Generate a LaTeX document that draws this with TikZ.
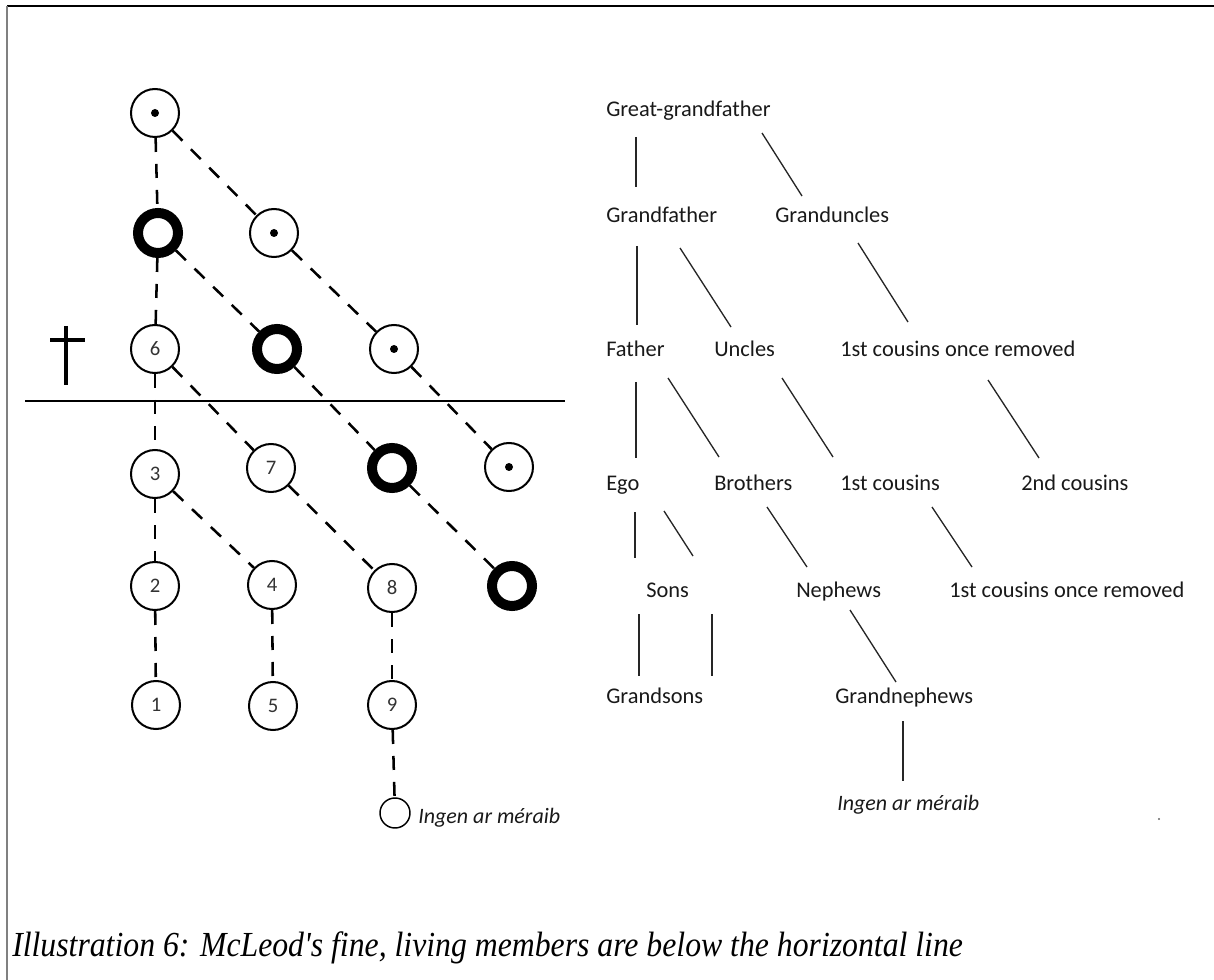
\documentclass[tikz,border=0pt]{standalone}
\usepackage{fontspec}
\setmainfont{Carlito}
\newfontfamily\capfont{Liberation Serif}[Ligatures=TeXOff]
\usepackage{graphicx}
\begin{document}
\begin{tikzpicture}[x=0.75pt,y=-0.75pt,
  thinc/.style={circle,draw,line width=1.5pt,minimum size=36pt,inner sep=0pt,
    font=\fontsize{15.5}{18}\selectfont,text=black!80},
  thickc/.style={circle,draw,line width=7.5pt,minimum size=30pt,inner sep=0pt},
  smallc/.style={circle,draw,line width=1.1pt,minimum size=22.5pt,inner sep=0pt},
  dotc/.style={path picture={\fill (path picture bounding box.center) circle (3pt);}},
  link/.style={line width=1.9pt,dash pattern=on 10.5pt off 9pt},
  lbl/.style={anchor=base west,inner sep=0pt,font=\fontsize{16.8}{20}\selectfont,text=black!90},
  tie/.style={line width=1pt,black!85}
]
\useasboundingbox (0,0) rectangle (1214,980);
% frame
\draw[line width=1.5pt] (7,6) -- (1214,6);
\draw[line width=1.5pt,black!50] (7,6) -- (7,980);

% left diagram nodes
\node[thinc,dotc] (n1) at (155,113) {};
\node[thickc] (t2) at (158,233) {};
\node[thinc,dotc] (d2) at (274,233) {};
\node[thinc] (c6) at (155,349) {6};
\node[thickc] (t3) at (277,349) {};
\node[thinc,dotc] (d3) at (394,349) {};
\node[thinc] (c3) at (155,474) {3};
\node[thinc] (c7) at (271,468) {7};
\node[thickc] (t4) at (392,468) {};
\node[thinc,dotc] (d4) at (509,467) {};
\node[thinc] (c2) at (155,586) {2};
\node[thinc] (c4) at (272,585) {4};
\node[thinc] (c8) at (392,588) {8};
\node[thickc] (t5) at (512,586) {};
\node[thinc] (c1) at (156,705) {1};
\node[thinc] (c5) at (273,706) {5};
\node[thinc] (c9) at (392,705) {9};
\node[smallc] (s) at (395,813) {};
\node[lbl,font=\fontsize{16.5}{20}\selectfont\itshape] (ingl) at (418,823) {Ingen ar méraib};

% dashed links
\draw[link] (n1) -- (t2);
\draw[link] (n1) -- (d2);
\draw[link] (t2) -- (c6);
\draw[link] (t2) -- (t3);
\draw[link] (d2) -- (d3);
\draw[link] (c6) -- (c3);
\draw[link] (c6) -- (c7);
\draw[link] (t3) -- (t4);
\draw[link] (d3) -- (d4);
\draw[link] (c3) -- (c2);
\draw[link] (c3) -- (c4);
\draw[link] (c7) -- (c8);
\draw[link] (t4) -- (t5);
\draw[link] (c2) -- (c1);
\draw[link] (c4) -- (c5);
\draw[link] (c8) -- (c9);
\draw[link] (c9) -- (s);

% dagger and horizontal line
\draw[line width=3pt] (66,326) -- (66,385);
\draw[line width=3pt] (50,340) -- (85,340);
\draw[line width=1.2pt] (25,401) -- (565,401);

% right diagram labels
\node[lbl] (ggf) at (606,117) {Great-grandfather};
\node[lbl] (gf) at (606,223) {Grandfather};
\node[lbl] (gu) at (775,223) {Granduncles};
\node[lbl] (fa) at (606,357) {Father};
\node[lbl] (un) at (714,357) {Uncles};
\node[lbl] (cor) at (840,357) {1st cousins once removed};
\node[lbl] (ego) at (606,490) {Ego};
\node[lbl] (br) at (714,490) {Brothers};
\node[lbl] (fc) at (840,490) {1st cousins};
\node[lbl] (sc) at (1021,490) {2nd cousins};
\node[lbl] (so) at (646,597) {Sons};
\node[lbl] (ne) at (796,597) {Nephews};
\node[lbl] (cor2) at (949,597) {1st cousins once removed};
\node[lbl] (gs) at (606,703) {Grandsons};
\node[lbl] (gn) at (835,703) {Grandnephews};
\node[lbl,font=\fontsize{16.5}{20}\selectfont\itshape] (ingr) at (837,810) {Ingen ar méraib};

% right diagram ties
\draw[tie] (636,137) -- (636,187);
\draw[tie] (762,133) -- (802,196);
\draw[tie] (637,246) -- (637,325);
\draw[tie] (680,248) -- (731,327);
\draw[tie] (858,243) -- (908,322);
\draw[tie] (636,382) -- (636,458);
\draw[tie] (668,378) -- (719,457);
\draw[tie] (782,378) -- (833,457);
\draw[tie] (988,380) -- (1039,458);
\draw[tie] (635,512) -- (635,558);
\draw[tie] (664,511) -- (693,556);
\draw[tie] (767,507) -- (807,567);
\draw[tie] (932,507) -- (972,567);
\draw[tie] (639,614) -- (639,676);
\draw[tie] (712,614) -- (712,676);
\draw[tie] (850,610) -- (896,682);
\draw[tie] (903,721) -- (903,781);
\fill[black!60] (1159,819) circle (0.9pt);

% caption
\node[anchor=base west,inner sep=0pt] (cap) at (12,956)
  {\resizebox{713pt}{\height}{\capfont\itshape\fontsize{26.4}{30}\selectfont Illustration 6: McLeod's fine, living members are below the horizontal line}};
\end{tikzpicture}
\end{document}
